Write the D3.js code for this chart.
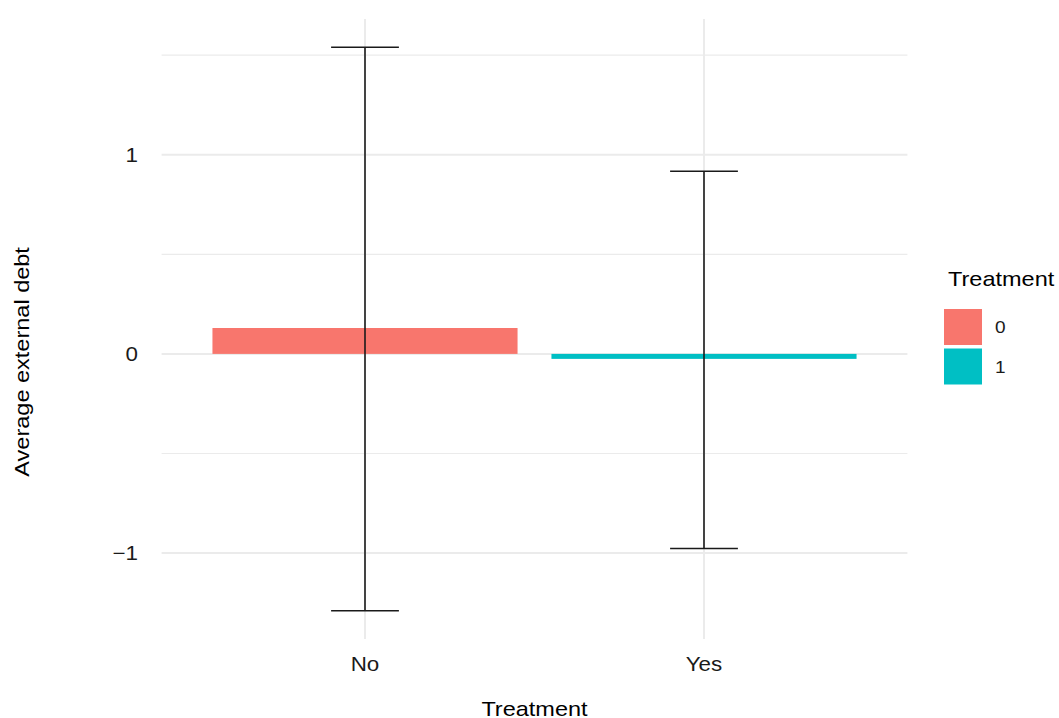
<!DOCTYPE html>
<html>
<head>
<meta charset="utf-8">
<script src="https://cdn.jsdelivr.net/npm/d3@7"></script>
<style>
  body { margin: 0; background: #fff; }
  svg { display: block; font-family: "Liberation Sans", Arial, sans-serif; }
</style>
</head>
<body>
<svg id="chart" width="1059" height="718"></svg>
<script>
// Average external debt by treatment group, with error bars
const categories = ["No", "Yes"];
const groups = ["0", "1"];
const means = [0.13, -0.025];
const lower = [-1.29, -0.977];
const upper = [1.54, 0.917];
const yTicks = [-1, 0, 1];
const yMinor = [-0.5, 0.5, 1.5];
const colors = ["#F8766D", "#00BFC4"];

const svg = d3.select("#chart");
const panel = { left: 161.6, right: 907.4, top: 19, bottom: 639 };
const stretch = 1.12; // glyphs are drawn slightly wide

// Discrete x with ggplot-style 0.6 expansion on each side
const x = d3.scaleLinear()
  .domain([0.4, 2.6])
  .range([panel.left, panel.right]);
const y = d3.scaleLinear()
  .domain([-1.4315, 1.6815])
  .range([panel.bottom, panel.top]);

function label(parent, px, py, txt, opts) {
  const rot = opts.rotate ? ` rotate(${opts.rotate})` : "";
  return parent.append("text")
    .attr("transform", `translate(${px},${py})${rot} scale(${stretch},1)`)
    .attr("text-anchor", opts.anchor || "start")
    .attr("dy", opts.dy || null)
    .attr("font-size", opts.size)
    .attr("fill", opts.fill || "#000")
    .text(txt);
}

const g = svg.append("g");

// grid
g.selectAll(".minor").data(yMinor).enter().append("line")
  .attr("x1", panel.left).attr("x2", panel.right)
  .attr("y1", d => y(d)).attr("y2", d => y(d))
  .attr("stroke", "#ebebeb").attr("stroke-width", 1.2);
g.selectAll(".major").data(yTicks).enter().append("line")
  .attr("x1", panel.left).attr("x2", panel.right)
  .attr("y1", d => y(d)).attr("y2", d => y(d))
  .attr("stroke", "#ebebeb").attr("stroke-width", 2);
g.selectAll(".vmajor").data(categories).enter().append("line")
  .attr("x1", (d, i) => x(i + 1)).attr("x2", (d, i) => x(i + 1))
  .attr("y1", panel.top).attr("y2", panel.bottom)
  .attr("stroke", "#ebebeb").attr("stroke-width", 2);

// bars
const barW = 0.9;
g.selectAll(".bar").data(means).enter().append("rect")
  .attr("x", (d, i) => x(i + 1 - barW / 2))
  .attr("width", x(barW) - x(0))
  .attr("y", d => y(Math.max(0, d)))
  .attr("height", d => Math.abs(y(d) - y(0)))
  .attr("fill", (d, i) => colors[i]);

// error bars
const capW = 0.1;
const eb = g.selectAll(".eb").data(categories).enter().append("g")
  .attr("stroke", "#1a1a1a").attr("stroke-width", 1.6);
eb.append("line")
  .attr("x1", (d, i) => x(i + 1)).attr("x2", (d, i) => x(i + 1))
  .attr("y1", (d, i) => y(upper[i])).attr("y2", (d, i) => y(lower[i]));
eb.append("line")
  .attr("x1", (d, i) => x(i + 1 - capW)).attr("x2", (d, i) => x(i + 1 + capW))
  .attr("y1", (d, i) => y(upper[i])).attr("y2", (d, i) => y(upper[i]));
eb.append("line")
  .attr("x1", (d, i) => x(i + 1 - capW)).attr("x2", (d, i) => x(i + 1 + capW))
  .attr("y1", (d, i) => y(lower[i])).attr("y2", (d, i) => y(lower[i]));

// y tick labels
yTicks.forEach(d => {
  label(g, 138, y(d), d < 0 ? "\u2212" + Math.abs(d) : String(d),
    { anchor: "end", dy: "0.36em", size: 20, fill: "#1a1a1a" });
});

// x tick labels
categories.forEach((d, i) => {
  label(g, x(i + 1), 671, d, { anchor: "middle", size: 20, fill: "#1a1a1a" });
});

// axis titles
label(svg, x(1.5), 716, "Treatment", { anchor: "middle", size: 21 });
label(svg, 29, y(0) + 8, "Average external debt",
  { anchor: "middle", size: 21, rotate: -90 });

// legend
const lg = svg.append("g").attr("transform", "translate(944,0)");
label(lg, 4, 286, "Treatment", { size: 21 });
groups.forEach((d, i) => {
  const it = lg.append("g").attr("transform", `translate(0,${309 + i * 39.5})`);
  it.append("rect").attr("width", 38).attr("height", 36).attr("fill", colors[i]);
  label(it, 51, 18, d, { dy: "0.36em", size: 17, fill: "#1a1a1a" });
});
</script>
</body>
</html>
